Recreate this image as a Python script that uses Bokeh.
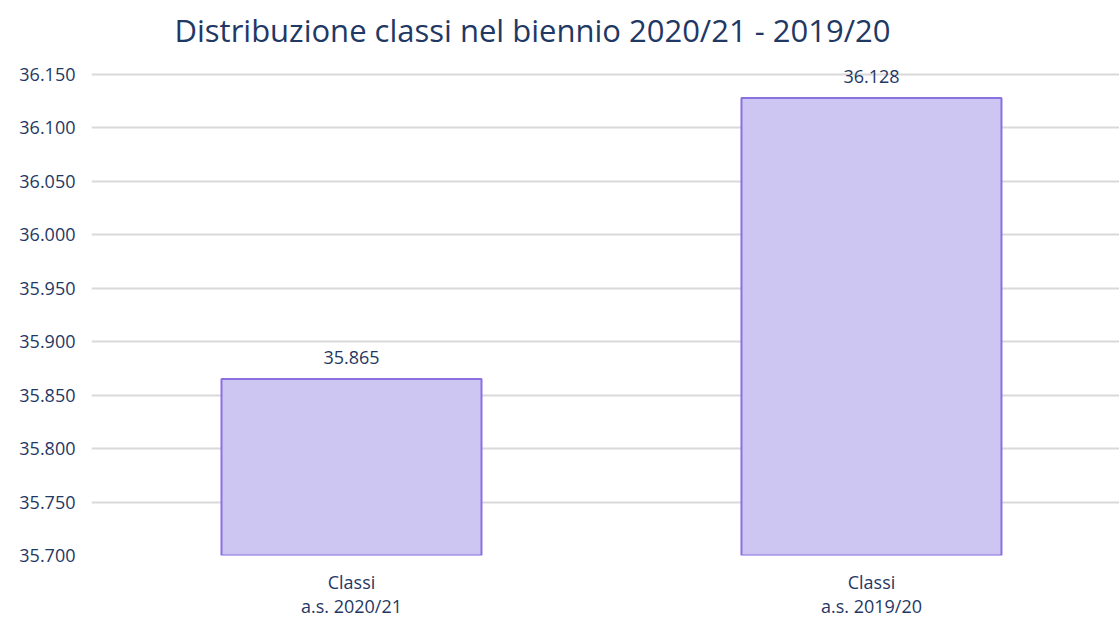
from bokeh.plotting import figure
from bokeh.models import ColumnDataSource, LabelSet, FixedTicker, Range1d
from bokeh.core.properties import value
from bokeh.embed import file_html
from bokeh.resources import INLINE

categories = ["Classi\na.s. 2020/21", "Classi\na.s. 2019/20"]
values = [35865, 36128]
y_ticks = [35700, 35750, 35800, 35850, 35900, 35950, 36000, 36050, 36100, 36150]

def fmt(v):
    return f"{v:,}".replace(",", ".")

xs = list(range(len(categories)))
src = ColumnDataSource(dict(x=xs, top=values, lab=[fmt(v) for v in values]))

FONT = "Open Sans"
NAVY = "#1F3864"
FS = "18px"

# frame extends a little above the last gridline so the top value label is not clipped
p = figure(width=1119, height=621, output_backend="svg", toolbar_location=None,
           x_range=Range1d(-0.5, 1.477), y_range=Range1d(y_ticks[0], 36166.8),
           min_border_left=91, min_border_right=0, min_border_top=56, min_border_bottom=66)
p.outline_line_color = None

p.vbar(x="x", top="top", bottom=y_ticks[0], width=0.5, source=src,
       fill_color="#CEC6F2", line_color="#8B70E2", line_width=2)

p.add_layout(LabelSet(x="x", y="top", text="lab", source=src, text_align="center",
                      text_baseline="bottom", y_offset=15, text_color=NAVY,
                      text_font_size=FS, text_font=value(FONT)))

p.title.text = "Distribuzione classi nel biennio 2020/21 - 2019/20"
p.title.text_font = FONT
p.title.text_font_size = "31px"
p.title.text_font_style = "normal"
p.title.text_color = NAVY
p.title.align = "left"
p.title.offset = 83
p.title.standoff = 12

p.xaxis.ticker = FixedTicker(ticks=xs)
p.xaxis.major_label_overrides = {i: c for i, c in zip(xs, categories)}
p.xaxis.axis_line_color = None
p.xaxis.major_tick_line_color = None
p.xaxis.major_tick_out = 0
p.xaxis.major_tick_in = 0
p.xaxis.minor_tick_line_color = None
p.xaxis.major_label_text_font = FONT
p.xaxis.major_label_text_font_size = FS
p.xaxis.major_label_text_color = NAVY
p.xaxis.major_label_text_line_height = 1.0
p.xaxis.major_label_standoff = 14
p.xgrid.grid_line_color = None

p.yaxis.ticker = FixedTicker(ticks=y_ticks)
p.yaxis.major_label_overrides = {t: fmt(t) for t in y_ticks}
p.yaxis.axis_line_color = None
p.yaxis.major_tick_line_color = None
p.yaxis.major_tick_out = 0
p.yaxis.major_tick_in = 0
p.yaxis.minor_tick_line_color = None
p.yaxis.major_label_text_font = FONT
p.yaxis.major_label_text_font_size = FS
p.yaxis.major_label_text_color = NAVY
p.yaxis.major_label_standoff = 16
p.ygrid.grid_line_color = "#D9D9D9"
p.ygrid.grid_line_width = 2

open("out.html", "w").write(file_html(p, INLINE))
